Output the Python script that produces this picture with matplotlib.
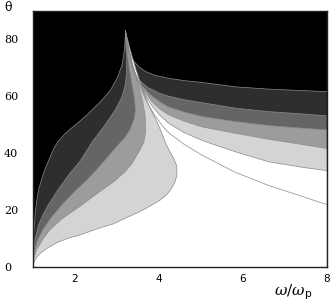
import numpy as np
import matplotlib
matplotlib.use("Agg")
import matplotlib.pyplot as plt

plt.rcParams["mathtext.fontset"] = "dejavuserif"

# ---- data: boundary curves (x = omega/omega_p, y = theta in degrees)
curve_a_x = [1.0, 1.01, 1.03, 1.07, 1.14, 1.22, 1.3, 1.4, 1.5, 1.6, 1.75, 1.9, 2.05, 2.3, 2.6, 2.85, 3.02, 3.13, 3.18, 3.2, 3.21,
             3.25, 3.3, 3.4, 3.53, 3.7, 3.92, 4.24, 4.6, 5.05, 5.83, 6.62, 7.41, 8.0]
curve_a_y = [0, 6, 12, 20, 27, 31, 34.5, 38, 41.5, 44, 46.5, 48.5, 50.3, 53.5, 57.8, 62, 66.5, 71, 75.5, 79, 83,
             79, 75.5, 72.5, 70.3, 68.6, 67.3, 66.3, 65.5, 64.8, 63.3, 62.5, 62.0, 61.6]

curve_b_x = [1.0, 1.02, 1.06, 1.15, 1.25, 1.38, 1.6, 1.89, 2.12, 2.45, 2.68, 2.97, 3.12, 3.2, 3.24, 3.24, 3.22, 3.21,
             3.24, 3.3, 3.4, 3.55, 3.75, 4.0, 4.24, 4.6, 5.05, 5.83, 6.62, 7.41, 8.0]
curve_b_y = [0, 5, 10, 15, 18.5, 22, 27, 33, 37, 44.6, 49, 55.2, 59.5, 63.5, 68, 73, 78, 83,
             79, 74, 69, 65.5, 63, 61.2, 60, 58.8, 57.7, 55.8, 54.6, 53.8, 53.1]

curve_c_x = [1.0, 1.02, 1.05, 1.12, 1.25, 1.45, 1.73, 2.0, 2.25, 2.52, 2.75, 3.0, 3.2, 3.33, 3.42, 3.45, 3.43,
             3.37, 3.3, 3.25, 3.21,
             3.25, 3.32, 3.43, 3.58, 3.8, 4.05, 4.24, 4.6, 5.05, 5.83, 6.62, 7.41, 8.0]
curve_c_y = [0, 3, 6, 9.5, 13.3, 17.5, 22.4, 26.5, 30, 34.1, 38, 42.3, 45.5, 48.5, 52, 55.2, 59,
             64, 70, 76, 83,
             78.5, 73, 68, 64, 60.5, 57.8, 56.2, 54.5, 52.8, 51.1, 49.7, 48.8, 48.2]

curve_d_x = [1.0, 1.02, 1.05, 1.1, 1.25, 1.41, 1.7, 2.12, 2.57, 2.95, 3.2, 3.37, 3.55, 3.65, 3.69, 3.68, 3.62,
             3.5, 3.36, 3.26, 3.21,
             3.26, 3.34, 3.46, 3.62, 3.85, 4.05, 4.24, 4.6, 5.05, 5.83, 6.62, 7.41, 8.0]
curve_d_y = [0, 2, 4, 6.2, 10, 13.1, 17, 21.3, 26.2, 30.2, 33.5, 36.5, 41, 44, 47.5, 53, 58.5,
             65, 72, 78, 83,
             78, 72, 67, 62.5, 58, 55.3, 53.5, 51.3, 49.2, 47.0, 44.9, 43.1, 41.7]

curve_e_x = [1.0, 1.02, 1.06, 1.12, 1.2, 1.34, 1.57, 1.85, 2.12, 2.6, 2.92, 3.25, 3.55, 3.8, 4.04, 4.2, 4.3, 4.38,
             4.43, 4.44, 4.42, 4.36, 4.27, 4.17, 4.09, 3.98, 3.88, 3.76, 3.62, 3.46, 3.32, 3.21,
             3.27, 3.36, 3.48, 3.65, 3.85, 4.05, 4.24, 4.6, 5.05, 5.83, 6.62, 7.41, 8.0]
curve_e_y = [0, 1.2, 2.6, 3.9, 5.1, 6.6, 8.6, 10.2, 11.3, 13.8, 15.2, 17.5, 19.5, 21.5, 23.6, 25.6, 27.5, 29.5,
             32, 34, 36, 38.2, 40.5, 43.5, 46.5, 50.5, 53.5, 57, 62.5, 69.5, 76.5, 83,
             78, 72, 66.5, 61, 56.5, 53, 50.5, 47.3, 44.4, 40.5, 37.0, 35.1, 33.9]

line_f_x = [3.21, 3.28, 3.38, 3.52, 3.7, 3.9, 4.1, 4.24, 4.6, 5.05, 5.83, 6.62, 7.41, 8.0]
line_f_y = [83, 77.5, 71, 64.5, 58.5, 53.5, 49.5, 47.2, 43.2, 39.2, 33.3, 28.7, 24.9, 22.0]

x_ticks = [2, 4, 6, 8]
y_ticks = [0, 20, 40, 60, 80]

curves = [(curve_a_x, curve_a_y), (curve_b_x, curve_b_y), (curve_c_x, curve_c_y),
          (curve_d_x, curve_d_y), (curve_e_x, curve_e_y)]
fills = ["#2e2e2e", "#656565", "#9c9c9c", "#d4d4d4", "#ffffff"]
edge = "#8a8a8a"

W, H = 332, 306
fig = plt.figure(figsize=(W / 100, H / 100), dpi=100)
L, R, T, B = 32.5, 326.7, 10.7, 267.3
ax = fig.add_axes([L / W, 1 - B / H, (R - L) / W, (B - T) / H])
ax.set_xlim(1, 8)
ax.set_ylim(0, 90)
ax.set_facecolor("black")

for (cx, cy), col in zip(curves, fills):
    px = list(cx) + [8.0, 1.0]
    py = list(cy) + [0.0, 0.0]
    ax.fill(px, py, color=col, lw=0, zorder=2)
for cx, cy in curves:
    ax.plot(cx, cy, color=edge, lw=0.5, zorder=3)
ax.plot(line_f_x, line_f_y, color=edge, lw=0.5, zorder=3)

for s in ax.spines.values():
    s.set_color("#222222")
    s.set_linewidth(1.0)
    s.set_zorder(5)

ax.set_xticks(x_ticks)
ax.set_xticklabels([str(v) for v in x_ticks], fontsize=7.5, family="DejaVu Sans")
ax.set_yticks(y_ticks)
ax.set_yticklabels([str(v) for v in y_ticks], fontsize=8, family="DejaVu Serif")
ax.tick_params(axis="x", length=0, pad=5)
ax.tick_params(axis="y", length=0, pad=20.5)
for lab in ax.get_yticklabels():
    lab.set_horizontalalignment("left")

fig.text(8.3 / W, 1 - 7.5 / H, "θ", ha="center", va="center", fontsize=9, family="DejaVu Serif")
fig.text(293 / W, 1 - 292 / H, r"$\omega/\omega_{\mathsf{p}}$", ha="center", va="center", fontsize=11)

fig.savefig("out.png", dpi=100)
